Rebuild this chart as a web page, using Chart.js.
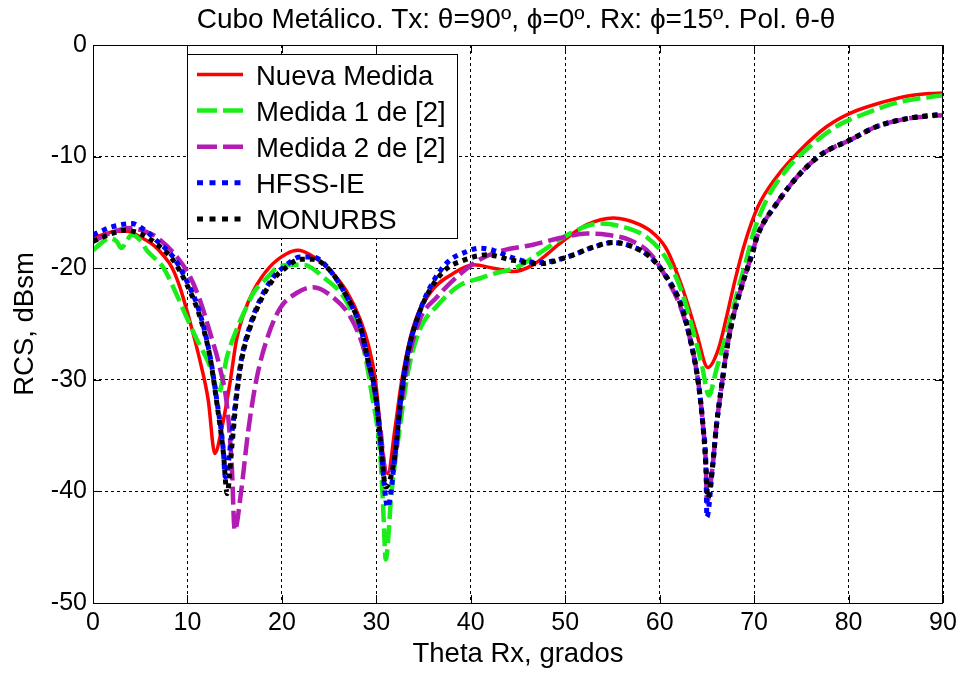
<!DOCTYPE html>
<html>
<head>
<meta charset="utf-8">
<script src="https://cdn.jsdelivr.net/npm/chart.js@4.4.1/dist/chart.umd.min.js"></script>
<style>
  html, body { margin: 0; padding: 0; background: #ffffff; }
  #wrap { width: 963px; height: 673px; }
</style>
</head>
<body>
<div id="wrap"><canvas id="rcs" width="963" height="673"></canvas></div>
<script>
// Bistatic RCS of a metallic cube, theta-theta polarisation, Rx phi = 15 deg.
// Angles in degrees (Theta Rx), RCS in dBsm.

const nuevaDeg = [0, 1, 2.5, 3.6, 5, 6.5, 7.4, 8.4, 9.2, 10.3, 11.3, 12.2, 12.9, 13.6, 14.5, 15.2, 16, 17, 18.7, 20.5, 21.7, 23, 25.1, 26.8, 28.3, 29.2, 29.9, 30.7, 31.2, 32, 32.7, 33.9, 35.7, 38.1, 40.3, 42.4, 44.5, 46.6, 48, 49.4, 52.3, 55.1, 57.9, 59.5, 60.8, 62.5, 63.9, 65.1, 66.2, 67.1, 68, 69, 70.4, 72.4, 74.9, 77.7, 80.2, 83.7, 86.8, 90];
const nuevaDb  = [-17.3, -17.0, -16.7, -16.7, -17.2, -18.0, -18.8, -20.0, -21.7, -24.9, -28.2, -31.8, -36.6, -34.5, -30.3, -26.4, -24.0, -22.0, -19.9, -18.7, -18.4, -18.8, -20.2, -22.0, -24.6, -27.0, -30.0, -36.6, -38.4, -34.2, -30.0, -25.3, -22.2, -20.5, -19.7, -20.0, -20.3, -19.7, -18.8, -17.8, -16.1, -15.5, -16.1, -17.0, -18.4, -22.0, -25.8, -28.9, -27.3, -24.3, -21.0, -17.8, -14.5, -11.8, -9.4, -7.3, -6.1, -5.1, -4.5, -4.3];

const medida1Deg = [0, 0.8, 1.8, 2.5, 3, 3.6, 4.1, 5, 5.7, 7.4, 8.5, 9.6, 11, 12.4, 13.3, 14.2, 15.2, 16.3, 17, 18.5, 19.8, 22.3, 24.4, 26.9, 28.6, 29.5, 30.4, 30.7, 31, 31.6, 32.5, 33.4, 34.6, 36.4, 38.9, 41, 42.4, 44.9, 47.7, 50.5, 53.7, 56.1, 58.6, 60.6, 62.3, 63.6, 64.5, 65.2, 66, 67.1, 68.2, 69.1, 69.9, 71.3, 73.4, 75.9, 78.7, 81.9, 85.4, 90];
const medida1Db  = [-18.4, -17.8, -17.3, -17.6, -18.2, -17.5, -17.0, -17.5, -18.4, -19.9, -21.7, -23.8, -26.4, -28.8, -31.2, -27.9, -25.5, -23.4, -22.2, -20.8, -19.8, -19.7, -20.8, -23.1, -27.0, -31.2, -36.6, -41.0, -46.1, -40.2, -34.2, -29.1, -25.5, -23.4, -21.5, -20.9, -20.5, -19.9, -18.4, -16.9, -16.0, -16.3, -17.2, -19.0, -22.0, -25.8, -28.8, -31.4, -29.1, -25.8, -22.2, -19.5, -16.9, -13.9, -11.2, -9.1, -7.3, -6.1, -5.1, -4.5];

const medida2Deg = [0, 2, 3.9, 5.5, 6.7, 8.9, 10.3, 11.3, 12.4, 13.4, 14.2, 14.7, 15, 15.7, 16.4, 17.3, 18.4, 19.8, 21.6, 23.3, 25.4, 27.2, 28.6, 29.7, 30.4, 31, 32, 32.5, 33.4, 34.6, 36.4, 38.9, 41, 43.4, 46.6, 49.4, 52.3, 54.4, 56.9, 59, 60.8, 62.3, 63.4, 64.1, 64.6, 64.9, 65, 65.6, 66, 66.6, 67.1, 67.8, 68.8, 69.9, 70.3, 72.4, 74.9, 77.3, 80.2, 83, 86.2, 90];
const medida2Db  = [-17.6, -16.8, -16.4, -16.7, -17.2, -19.0, -20.8, -22.8, -25.8, -28.8, -32.4, -37.8, -43.5, -39.9, -34.8, -30.0, -26.4, -23.6, -22.2, -21.7, -22.6, -24.3, -27.0, -30.6, -34.2, -38.4, -36.6, -33.0, -28.2, -24.6, -22.6, -20.5, -19.2, -18.4, -17.9, -17.3, -16.9, -17.0, -17.5, -18.7, -21.0, -23.7, -27.0, -30.3, -34.2, -37.8, -41.0, -37.8, -34.2, -30.3, -27.3, -24.3, -21.3, -18.4, -17.2, -14.2, -11.5, -9.7, -8.5, -7.3, -6.6, -6.3];

const hfssDeg = [0, 2, 4.1, 5.5, 6.7, 8.5, 9.9, 11.3, 12.4, 13.1, 13.8, 14, 14.7, 15.2, 15.7, 16.6, 17.7, 19.1, 20.5, 21.9, 23.3, 25.1, 26.9, 28.3, 29.1, 29.9, 30.4, 31.2, 32, 32.5, 33.2, 34.3, 35.7, 37.5, 39.6, 41, 42.4, 44.2, 45.9, 47.3, 50.2, 53, 55.1, 57.2, 59, 60.5, 62.3, 63.4, 64.1, 64.6, 64.9, 65, 65.6, 66, 66.6, 67.1, 67.8, 68.8, 69.9, 70.3, 72.4, 74.9, 77.3, 80.2, 83, 86.2, 90];
const hfssDb  = [-17.0, -16.3, -16.0, -16.6, -17.5, -19.0, -21.1, -24.0, -27.9, -31.8, -36.3, -38.7, -34.8, -31.2, -28.2, -25.2, -22.8, -20.8, -19.7, -19.0, -19.0, -20.2, -22.6, -25.2, -28.2, -31.2, -35.1, -41.4, -36.6, -32.4, -28.2, -24.6, -21.7, -19.5, -18.5, -18.2, -18.4, -19.0, -19.4, -19.5, -19.0, -18.1, -17.7, -18.1, -19.0, -20.5, -23.4, -27.0, -30.3, -34.2, -37.8, -42.3, -37.8, -34.2, -30.3, -27.3, -24.3, -21.3, -18.4, -17.2, -14.2, -11.5, -9.7, -8.5, -7.3, -6.6, -6.2];

const monurbsDeg = [0, 2, 3.3, 5, 6.7, 8.5, 9.9, 11.3, 12.4, 13.1, 13.8, 14.2, 14.7, 15.2, 15.7, 16.6, 17.7, 19.1, 20.5, 21.9, 23.3, 25.1, 26.9, 28.3, 29.1, 29.9, 30.4, 31, 32, 32.5, 33.2, 34.3, 35.7, 37.5, 38.9, 41.7, 44.5, 47.3, 50.2, 53, 55.1, 57.2, 59, 60.5, 62.3, 63.4, 64.1, 64.6, 64.9, 65.1, 65.6, 66, 66.6, 67.1, 67.8, 68.8, 69.9, 70.3, 72.4, 74.9, 77.3, 80.2, 83, 86.2, 90];
const monurbsDb  = [-17.6, -16.9, -16.6, -16.9, -17.8, -19.3, -21.4, -24.3, -28.0, -32.0, -36.5, -40.2, -36.0, -31.5, -28.4, -25.4, -23.0, -21.0, -19.9, -19.2, -19.2, -20.2, -22.6, -25.2, -28.2, -31.2, -35.1, -39.6, -36.6, -32.4, -28.2, -24.6, -21.9, -20.0, -19.4, -18.8, -19.3, -19.6, -19.0, -18.1, -17.7, -18.1, -19.0, -20.5, -23.4, -27.0, -30.3, -34.2, -37.8, -40.6, -37.8, -34.2, -30.3, -27.3, -24.3, -21.3, -18.4, -17.2, -14.2, -11.5, -9.7, -8.5, -7.3, -6.6, -6.2];

const seriesNames = ['Nueva Medida', 'Medida 1 de [2]', 'Medida 2 de [2]', 'HFSS-IE', 'MONURBS'];
const xTicks = [0, 10, 20, 30, 40, 50, 60, 70, 80, 90];
const yTicks = [0, -10, -20, -30, -40, -50];

const chartTitle = 'Cubo Metálico. Tx: θ=90º, ϕ=0º. Rx: ϕ=15º. Pol. θ-θ';
const xTitle = 'Theta Rx, grados';
const yTitle = 'RCS, dBsm';

const FONT = '"Liberation Sans", Arial, Helvetica, sans-serif';

function pts(xs, ys) { return xs.map((x, i) => ({ x: x, y: ys[i] })); }

const styles = [
  { color: '#ff0000', width: 3.5, dash: [], legendDash: [] },
  { color: '#19ee19', width: 4.5, dash: [18, 6], legendDash: [20, 6] },
  { color: '#b31cb3', width: 4.5, dash: [18, 6], legendDash: [20, 6] },
  { color: '#0000ff', width: 5, dash: [5, 5], legendDash: [6, 6.5] },
  { color: '#000000', width: 5, dash: [5, 5], legendDash: [6, 6.5] }
];

const seriesData = [
  pts(nuevaDeg, nuevaDb),
  pts(medida1Deg, medida1Db),
  pts(medida2Deg, medida2Db),
  pts(hfssDeg, hfssDb),
  pts(monurbsDeg, monurbsDb)
];

const datasets = seriesData.map((d, i) => ({
  label: seriesNames[i],
  data: d,
  borderColor: styles[i].color,
  backgroundColor: styles[i].color,
  borderWidth: styles[i].width,
  borderDash: styles[i].dash,
  borderCapStyle: 'butt',
  borderJoinStyle: 'round',
  pointRadius: 0,
  cubicInterpolationMode: 'monotone',
  fill: false,
  order: seriesNames.length - i
}));

// Frame, inner tick marks, boxed legend and the figure title.
const decor = {
  id: 'decor',
  afterDatasetsDraw(chart) {
    const ctx = chart.ctx;
    const a = chart.chartArea;
    const xs = chart.scales.x, ys = chart.scales.y;
    ctx.save();
    ctx.strokeStyle = '#000';
    ctx.lineWidth = 1;
    ctx.setLineDash([]);
    ctx.strokeRect(Math.round(a.left) + 0.5, Math.round(a.top) + 0.5,
                   Math.round(a.right - a.left) - 1, Math.round(a.bottom - a.top));
    const tl = 8;
    ctx.beginPath();
    xTicks.forEach(v => {
      const px = Math.round(xs.getPixelForValue(v)) + 0.5;
      ctx.moveTo(px, a.bottom); ctx.lineTo(px, a.bottom - tl);
      ctx.moveTo(px, a.top); ctx.lineTo(px, a.top + tl);
    });
    yTicks.forEach(v => {
      const py = Math.round(ys.getPixelForValue(v)) + 0.5;
      ctx.moveTo(a.left, py); ctx.lineTo(a.left + tl, py);
      ctx.moveTo(a.right, py); ctx.lineTo(a.right - tl, py);
    });
    ctx.stroke();
    ctx.restore();
  },
  afterDraw(chart) {
    const ctx = chart.ctx;
    ctx.save();
    // legend box
    const bx = 187.5, by = 54.5, bw = 270, bh = 184;
    ctx.fillStyle = '#fff';
    ctx.fillRect(bx, by, bw, bh);
    ctx.strokeStyle = '#000';
    ctx.lineWidth = 1;
    ctx.setLineDash([]);
    ctx.strokeRect(bx, by, bw, bh);
    ctx.font = '27.5px ' + FONT;
    ctx.textBaseline = 'alphabetic';
    ctx.textAlign = 'left';
    seriesNames.forEach((name, i) => {
      const st = styles[i];
      const ly = 74.5 + 36.1 * i;
      ctx.beginPath();
      ctx.strokeStyle = st.color;
      ctx.lineWidth = st.width;
      ctx.lineCap = 'butt';
      ctx.setLineDash(st.legendDash);
      ctx.moveTo(197, ly);
      ctx.lineTo(243, ly);
      ctx.stroke();
      ctx.setLineDash([]);
      ctx.fillStyle = '#000';
      ctx.fillText(name, 256, 84.5 + 36.1 * i);
    });
    // figure title
    ctx.font = '28px ' + FONT;
    ctx.textAlign = 'center';
    ctx.textBaseline = 'middle';
    ctx.fillStyle = '#000';
    ctx.fillText(chartTitle, 516, 20);
    ctx.restore();
  }
};

new Chart(document.getElementById('rcs').getContext('2d'), {
  type: 'line',
  data: { datasets: datasets },
  options: {
    responsive: false,
    animation: false,
    devicePixelRatio: 1,
    layout: { padding: { top: 45, right: 20, left: 0, bottom: 0 } },
    plugins: {
      legend: { display: false },
      title: { display: false },
      tooltip: { enabled: false }
    },
    elements: { line: { tension: 0 } },
    scales: {
      x: {
        type: 'linear',
        min: 0, max: 90,
        afterFit(scale) { scale.height = 70; },
        afterBuildTicks(scale) { scale.ticks = xTicks.map(v => ({ value: v })); },
        ticks: { color: '#000', font: { family: FONT, size: 25 }, padding: 5, maxRotation: 0 },
        grid: { color: '#000', lineWidth: 1, drawTicks: false },
        border: { display: false, dash: [3, 3] },
        title: { display: true, text: xTitle, color: '#000', font: { family: FONT, size: 27.5 }, padding: { top: 0, bottom: 2 } }
      },
      y: {
        type: 'linear',
        min: -50, max: 0,
        afterFit(scale) { scale.width = 93; },
        afterBuildTicks(scale) { scale.ticks = yTicks.map(v => ({ value: v })); },
        ticks: { color: '#000', font: { family: FONT, size: 25 }, padding: 6 },
        grid: { color: '#000', lineWidth: 1, drawTicks: false },
        border: { display: false, dash: [3, 3] },
        title: { display: true, text: yTitle, color: '#000', font: { family: FONT, size: 27.5 }, padding: { top: 9, bottom: 0 } }
      }
    }
  },
  plugins: [decor]
});
</script>
</body>
</html>
